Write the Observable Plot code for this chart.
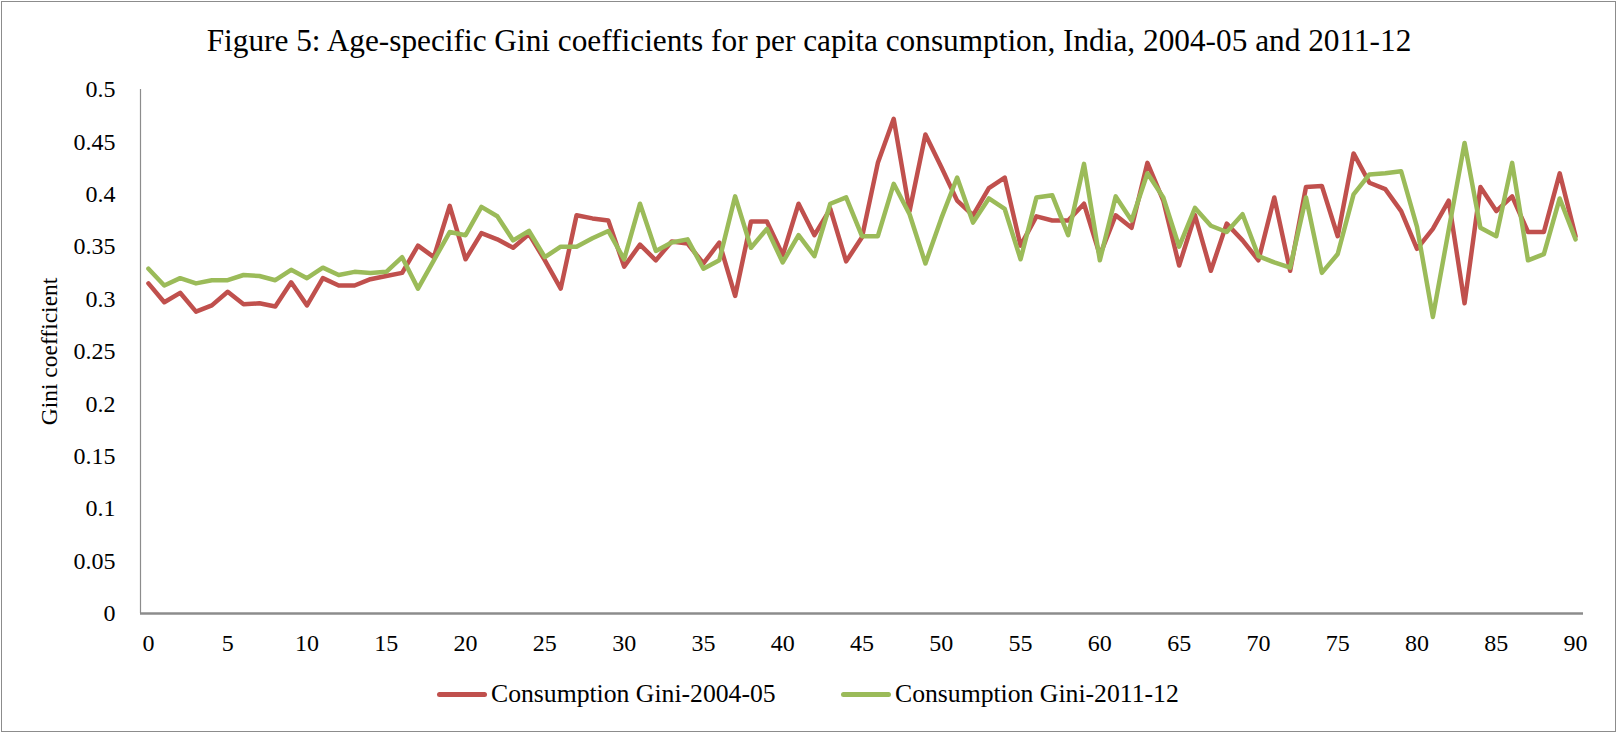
<!DOCTYPE html>
<html>
<head>
<meta charset="utf-8">
<script src="https://cdn.jsdelivr.net/npm/d3@7"></script>
<script src="https://cdn.jsdelivr.net/npm/@observablehq/plot@0.6"></script>
<style>
  html, body { margin: 0; padding: 0; background: #fff; }
  #frame { position: relative; width: 1618px; height: 734px; overflow: hidden; font-family: "Liberation Serif", "Times New Roman", serif; }
  #border { position: absolute; left: 1px; top: 1px; width: 1613px; height: 729px; border: 1.5px solid #8c8c8c; box-sizing: content-box; }
  #title { position: absolute; left: 0; top: 23px; width: 1618px; text-align: center; font-size: 31.3px; line-height: 36px; color: #000; }
  #chart { position: absolute; left: 0; top: 0; }
  #legend { position: absolute; top: 679px; left: 0; width: 1618px; font-size: 25.7px; color: #000; }
  .item { position: absolute; top: 0; display: flex; align-items: center; height: 30px; }
  .swatch { display: inline-block; width: 50px; height: 5px; border-radius: 2.5px; margin-right: 4px; }
</style>
</head>
<body>
<div id="frame">
  <div id="chart"></div>
  <div id="title">Figure 5: Age-specific Gini coefficients for per capita consumption, India, 2004-05 and 2011-12</div>
  <div id="legend"></div>
  <div id="border"></div>
</div>
<script>
const ages = d3.range(0, 91);
const gini2004 = [
  0.315,0.297,0.306,0.288,0.294,0.307,0.295,0.296,0.293,0.316,
  0.294,0.320,0.313,0.313,0.319,0.322,0.325,0.351,0.340,0.389,
  0.338,0.363,0.357,0.349,0.362,0.337,0.310,0.380,0.377,0.375,
  0.331,0.352,0.337,0.355,0.353,0.334,0.354,0.303,0.374,0.374,
  0.342,0.391,0.361,0.386,0.336,0.359,0.430,0.472,0.384,0.457,
  0.426,0.394,0.380,0.406,0.416,0.351,0.379,0.375,0.375,0.391,
  0.342,0.380,0.368,0.430,0.394,0.332,0.380,0.327,0.372,0.356,
  0.337,0.397,0.327,0.407,0.408,0.360,0.439,0.411,0.405,0.384,
  0.348,0.367,0.394,0.296,0.407,0.384,0.398,0.364,0.364,0.420,
  0.360
];
const gini2011 = [
  0.329,0.313,0.320,0.315,0.318,0.318,0.323,0.322,0.318,0.328,
  0.320,0.330,0.323,0.326,0.325,0.326,0.340,0.310,0.337,0.364,
  0.361,0.388,0.379,0.356,0.365,0.340,0.350,0.350,0.358,0.365,
  0.338,0.391,0.346,0.354,0.357,0.329,0.337,0.398,0.349,0.367,
  0.335,0.361,0.341,0.391,0.397,0.360,0.360,0.410,0.381,0.334,
  0.377,0.416,0.373,0.396,0.386,0.338,0.397,0.399,0.361,0.429,
  0.337,0.398,0.375,0.420,0.397,0.350,0.387,0.370,0.364,0.381,
  0.341,0.335,0.330,0.397,0.325,0.343,0.400,0.419,0.420,0.422,
  0.369,0.283,0.366,0.449,0.368,0.360,0.430,0.337,0.343,0.396,
  0.357
];
const seriesNames = ["Consumption Gini-2004-05", "Consumption Gini-2011-12"];
const seriesColors = ["#C0504D", "#9BBB59"];
const xTicks = d3.range(0, 91, 5);
const yTicks = [0, 0.05, 0.1, 0.15, 0.2, 0.25, 0.3, 0.35, 0.4, 0.45, 0.5];
const yTickLabels = ["0", "0.05", "0.1", "0.15", "0.2", "0.25", "0.3", "0.35", "0.4", "0.45", "0.5"];
const yLabel = "Gini coefficient";

const rows = [];
ages.forEach((a, i) => {
  rows.push({age: a, gini: gini2004[i], series: seriesNames[0]});
});
ages.forEach((a, i) => {
  rows.push({age: a, gini: gini2011[i], series: seriesNames[1]});
});

const yFmt = d => yTickLabels[yTicks.indexOf(d)] ?? String(d);

const chart = Plot.plot({
  width: 1618,
  height: 734,
  marginLeft: 140,
  marginRight: 35,
  marginTop: 89,
  marginBottom: 121,
  style: {fontFamily: "'Liberation Serif', 'Times New Roman', serif", fontSize: "24px", color: "#000", background: "transparent", overflow: "visible"},
  x: {domain: [-0.5, 90.5], label: null},
  y: {domain: [0, 0.5], label: null},
  color: {domain: seriesNames, range: seriesColors},
  marks: [
    Plot.ruleX([-0.5], {stroke: "#8c8c8c", strokeWidth: 1.2}),
    Plot.ruleY([0], {stroke: "#8c8c8c", strokeWidth: 2.5}),
    Plot.lineY(rows, {x: "age", y: "gini", z: "series", stroke: "series", strokeWidth: 4.5, strokeLinejoin: "round", strokeLinecap: "round"}),
    Plot.axisX({ticks: xTicks, tickSize: 0, tickPadding: 20, tickFormat: d => String(d), fontSize: 24, label: null}),
    Plot.axisY({ticks: yTicks, tickSize: 0, tickPadding: 25, tickFormat: yFmt, fontSize: 24, label: null}),
    Plot.text([yLabel], {frameAnchor: "left", textAnchor: "middle", dx: -91, rotate: -90, fontSize: 23.5, text: d => d})
  ]
});
document.getElementById("chart").appendChild(chart);

const legend = document.getElementById("legend");
const legendX = [437, 841];
seriesNames.forEach((name, i) => {
  const item = document.createElement("div");
  item.className = "item";
  item.style.left = legendX[i] + "px";
  const sw = document.createElement("span");
  sw.className = "swatch";
  sw.style.background = seriesColors[i];
  const label = document.createElement("span");
  label.textContent = name;
  item.appendChild(sw);
  item.appendChild(label);
  legend.appendChild(item);
});
</script>
</body>
</html>
